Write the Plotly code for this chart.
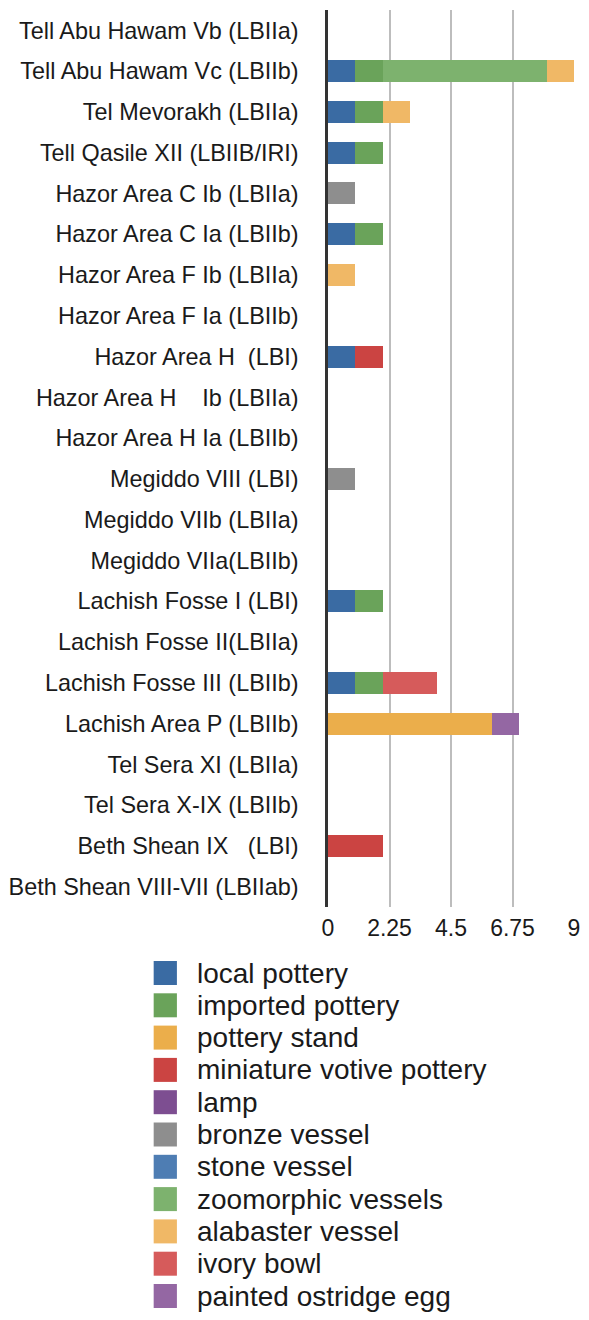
import plotly.graph_objects as go

NB = "\u00a0"
categories = [
    "Tell Abu Hawam Vb (LBIIa)",
    "Tell Abu Hawam Vc (LBIIb)",
    "Tel Mevorakh (LBIIa)",
    "Tell Qasile XII (LBIIB/IRI)",
    "Hazor Area C Ib (LBIIa)",
    "Hazor Area C Ia (LBIIb)",
    "Hazor Area F Ib (LBIIa)",
    "Hazor Area F Ia (LBIIb)",
    "Hazor Area H" + NB + NB + "(LBI)",
    "Hazor Area H" + NB * 4 + "Ib (LBIIa)",
    "Hazor Area H Ia (LBIIb)",
    "Megiddo VIII (LBI)",
    "Megiddo VIIb (LBIIa)",
    "Megiddo VIIa(LBIIb)",
    "Lachish Fosse I (LBI)",
    "Lachish Fosse II(LBIIa)",
    "Lachish Fosse III (LBIIb)",
    "Lachish Area P (LBIIb)",
    "Tel Sera XI (LBIIa)",
    "Tel Sera X-IX (LBIIb)",
    "Beth Shean IX" + NB * 3 + "(LBI)",
    "Beth Shean VIII-VII (LBIIab)",
]

series_names = [
    "local pottery", "imported pottery", "pottery stand", "miniature votive pottery",
    "lamp", "bronze vessel", "stone vessel", "zoomorphic vessels",
    "alabaster vessel", "ivory bowl", "painted ostridge egg",
]

#                    Vb Vc Mv Qs Cb Ca Fb Fa H  Hb Ha M8 M7b M7a F1 F2 F3 P  S11 S10 B9 B8
local_pottery      = [0, 1, 1, 1, 0, 1, 0, 0, 1, 0, 0, 0, 0, 0, 1, 0, 1, 0, 0, 0, 0, 0]
imported_pottery   = [0, 1, 1, 1, 0, 1, 0, 0, 0, 0, 0, 0, 0, 0, 1, 0, 1, 0, 0, 0, 0, 0]
pottery_stand      = [0, 0, 0, 0, 0, 0, 0, 0, 0, 0, 0, 0, 0, 0, 0, 0, 0, 6, 0, 0, 0, 0]
miniature_votive   = [0, 0, 0, 0, 0, 0, 0, 0, 1, 0, 0, 0, 0, 0, 0, 0, 0, 0, 0, 0, 2, 0]
lamp               = [0, 0, 0, 0, 0, 0, 0, 0, 0, 0, 0, 0, 0, 0, 0, 0, 0, 0, 0, 0, 0, 0]
bronze_vessel      = [0, 0, 0, 0, 1, 0, 0, 0, 0, 0, 0, 1, 0, 0, 0, 0, 0, 0, 0, 0, 0, 0]
stone_vessel       = [0, 0, 0, 0, 0, 0, 0, 0, 0, 0, 0, 0, 0, 0, 0, 0, 0, 0, 0, 0, 0, 0]
zoomorphic_vessels = [0, 6, 0, 0, 0, 0, 0, 0, 0, 0, 0, 0, 0, 0, 0, 0, 0, 0, 0, 0, 0, 0]
alabaster_vessel   = [0, 1, 1, 0, 0, 0, 1, 0, 0, 0, 0, 0, 0, 0, 0, 0, 0, 0, 0, 0, 0, 0]
ivory_bowl         = [0, 0, 0, 0, 0, 0, 0, 0, 0, 0, 0, 0, 0, 0, 0, 0, 2, 0, 0, 0, 0, 0]
painted_egg        = [0, 0, 0, 0, 0, 0, 0, 0, 0, 0, 0, 0, 0, 0, 0, 0, 0, 1, 0, 0, 0, 0]

series_values = [
    local_pottery, imported_pottery, pottery_stand, miniature_votive, lamp,
    bronze_vessel, stone_vessel, zoomorphic_vessels, alabaster_vessel,
    ivory_bowl, painted_egg,
]

x_ticks = [0, 2.25, 4.5, 6.75, 9]
x_tick_labels = ["0", "2.25", "4.5", "6.75", "9"]

colors = [
    "#3A6BA3", "#6AA35A", "#EBAE4B", "#CB4442", "#7D4E91", "#8E8E8E",
    "#4E7DB3", "#7DB26E", "#F0B866", "#D65B5B", "#9467A3",
]

FONT = "Liberation Sans, Arial, Helvetica, sans-serif"
W, H = 589, 1320
ML, MR, MT, MB = 326, 9, 10, 413
PW = W - ML - MR
PH = H - MT - MB

fig = go.Figure()
for name, vals, col in zip(series_names, series_values, colors):
    fig.add_trace(go.Bar(
        y=categories, x=vals, name=name, orientation="h",
        marker=dict(color=col, line=dict(width=0)),
        showlegend=False,
    ))

# custom legend (large swatches)
def px_to_paper_x(px):
    return (px - ML) / PW

def px_to_paper_y(py):
    return (H - MB - py) / PH

for i, (name, col) in enumerate(zip(series_names, colors)):
    cy = 973 + 32.3 * i
    fig.add_shape(
        type="rect", xref="paper", yref="paper",
        x0=px_to_paper_x(146), x1=px_to_paper_x(170),
        y0=px_to_paper_y(cy - 12), y1=px_to_paper_y(cy + 12),
        fillcolor=col, line=dict(width=0),
    )
    fig.add_annotation(
        xref="paper", yref="paper", x=px_to_paper_x(189), y=px_to_paper_y(cy),
        text=name, showarrow=False, xanchor="left", yanchor="middle",
        font=dict(family=FONT, size=28, color="#1a1a1a"),
    )

fig.update_layout(
    barmode="stack",
    bargap=0.46,
    width=W, height=H,
    margin=dict(l=ML, r=MR, t=MT, b=MB, pad=0),
    paper_bgcolor="white", plot_bgcolor="white",
    showlegend=False,
    font=dict(family=FONT, size=23.4, color="#1a1a1a"),
)
fig.update_xaxes(
    range=[0, 9], tickvals=x_ticks, ticktext=x_tick_labels,
    showgrid=True, gridcolor="#BDBDBD", gridwidth=2,
    zeroline=False, showline=False, ticks="",
    tickfont=dict(size=23, color="#1a1a1a"), ticklabelstandoff=5,
    ticklabeloverflow="allow",
)
fig.update_yaxes(
    autorange="reversed", showgrid=False, zeroline=False,
    showline=True, linecolor="#333333", linewidth=2.5,
    ticks="", tickfont=dict(size=23.4, color="#1a1a1a"), ticklabelstandoff=22,
)

fig.write_html(
    "out.html",
    config={"displayModeBar": False},
    post_script="document.body.style.margin='0';document.body.style.overflow='hidden';",
)
